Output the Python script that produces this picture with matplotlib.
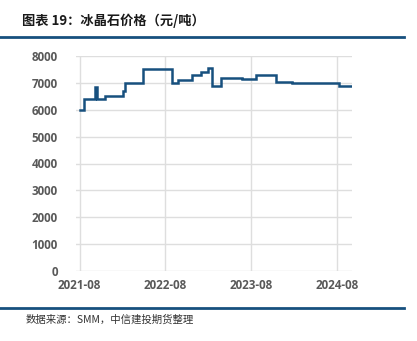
import matplotlib.pyplot as plt
import matplotlib.dates as mdates
import pandas as pd
import numpy as np

plt.rcParams['font.family'] = ['Noto Sans CJK SC', 'DejaVu Sans']

######################### DATA ################################################

# step changes of the cryolite price, yuan/ton
dates = ['2021-08-01', '2021-08-20', '2021-10-05', '2021-10-13', '2021-11-17',
         '2022-02-01', '2022-02-10', '2022-04-26', '2022-08-28', '2022-09-25',
         '2022-11-24', '2022-12-30', '2023-01-28', '2023-02-17', '2023-03-24',
         '2023-06-24', '2023-08-20', '2023-11-14', '2024-01-20', '2024-08-08',
         '2024-10-01']
prices = [6000, 6400, 6850, 6400, 6500,
          6700, 7000, 7500, 7000, 7100,
          7300, 7400, 7550, 6900, 7200,
          7150, 7300, 7050, 7000, 6900,
          6900]

tick_dates = ['2021-08-01', '2022-08-01', '2023-08-01', '2024-08-01']
tick_labels = ['2021-08', '2022-08', '2023-08', '2024-08']
yticks = [0, 1000, 2000, 3000, 4000, 5000, 6000, 7000, 8000]

title = '图表 19：冰晶石价格（元/吨）'
source = '数据来源：SMM，中信建投期货整理'

######################### FIG PARAMS ##########################################

W, H = 417, 341
navy = '#17507E'
grid_c = '#DEDEDE'
lab_c = '#595959'

######################### GENERATE FIG ########################################

fig = plt.figure(figsize=(W / 100, H / 100), dpi=100)
ax = fig.add_axes([76 / W, 1 - 271 / H, (352 - 76) / W, (271 - 56) / H])

x = pd.to_datetime(dates)
ax.step(x, prices, where='post', color=navy, lw=1.8, solid_joinstyle='miter')

ax.set_ylim(0, 8000)
ax.set_yticks(yticks)
ax.set_xlim(pd.Timestamp('2021-07-17'), pd.Timestamp('2024-10-02'))
ax.set_xticks(pd.to_datetime(tick_dates))
ax.set_xticklabels(tick_labels)

ax.grid(True, color=grid_c, lw=1)
ax.set_axisbelow(True)
for s in ax.spines.values():
    s.set_visible(False)
ax.tick_params(length=0, colors=lab_c)
ax.tick_params(axis='y', pad=13)
ax.tick_params(axis='x', pad=6)
for t in ax.get_xticklabels() + ax.get_yticklabels():
    t.set_family(['Open Sans', 'DejaVu Sans'])
    t.set_fontweight('bold')
    t.set_fontsize(8.4)

# title, rules and source note
fig.text(22 / W, 1 - 21 / H, title, fontsize=9.5, fontweight='bold',
         va='center', ha='left', color='#1a1a1a')
fig.add_artist(plt.Line2D([0, 404 / W], [1 - 37.3 / H] * 2, color=navy, lw=2))
fig.add_artist(plt.Line2D([0, 404 / W], [1 - 308 / H] * 2, color=navy, lw=2))
fig.text(26 / W, 1 - 320 / H, source, fontsize=7.5, style='italic',
         va='center', ha='left', color='#333333')

#### Final Format and Save #####################################################
plt.savefig('out.png', dpi=100)
plt.close()
